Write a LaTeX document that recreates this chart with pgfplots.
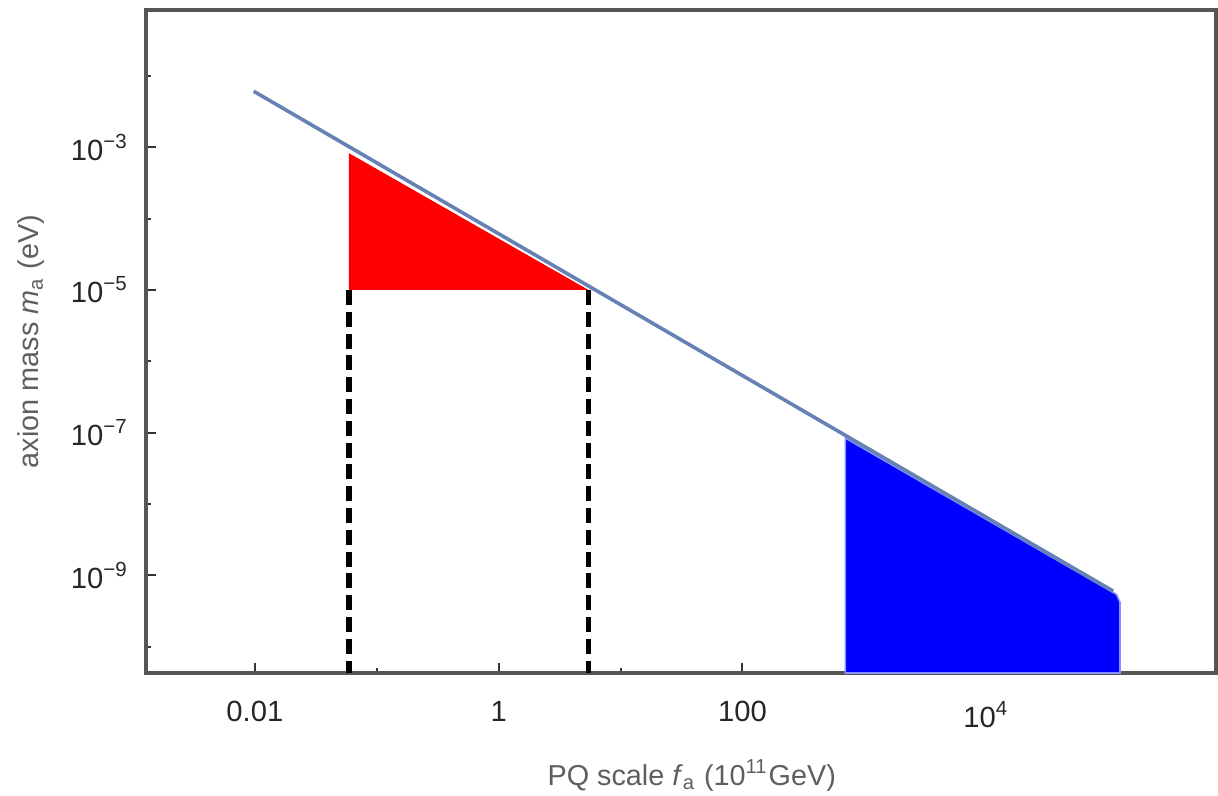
\documentclass[border=0pt]{standalone}
\usepackage{pgfplots}
\pgfplotsset{compat=1.18}
\usepackage{fontspec}
\setmainfont{Liberation Sans}
\definecolor{axgray}{RGB}{85,85,85}
\definecolor{lblgray}{RGB}{95,95,95}
\definecolor{lineblue}{RGB}{102,130,180}
\definecolor{edgeblue}{RGB}{135,145,255}
\begin{document}
\begin{tikzpicture}
\begin{axis}[
  scale only axis,
  width=267.5pt, height=165.75pt,
  xmode=log, ymode=log,
  xmin=1.28e-3, xmax=7.67e5,
  ymin=4.27e-11, ymax=0.0841,
  axis line style={draw=axgray, line width=0.9pt},
  tick align=inside,
  xtick pos=bottom, ytick pos=left,
  major tick length=2.5pt, minor tick length=1.3pt,
  tick style={draw=black!80, line width=0.5pt},
  xtick={0.01,1,100,10000},
  xticklabels={0.01,1,100,10\textsuperscript{4}},
  minor xtick={0.1,10,1000,100000},
  ytick={1e-3,1e-5,1e-7,1e-9},
  yticklabels={10\textsuperscript{−3},10\textsuperscript{−5},10\textsuperscript{−7},10\textsuperscript{−9}},
  minor ytick={1e-2,1e-4,1e-6,1e-8,1e-10},
  ticklabel style={font=\fontsize{7.3}{8.7}\selectfont, text=black!85},
  xticklabel style={yshift=-3.5pt},
  yticklabel style={xshift=-0.8pt},
  xlabel={PQ scale \textit{f}\textsubscript{a} (10\textsuperscript{11}GeV)},
  ylabel={axion mass \textit{m}\textsubscript{a} (eV)},
  every axis x label/.style={at={(axis description cs:0.51,-0.154)}, anchor=center, font=\fontsize{7.2}{8.6}\selectfont, text=lblgray},
  every axis y label/.style={at={(axis description cs:-0.107,0.5)}, rotate=90, anchor=center, font=\fontsize{7.2}{8.6}\selectfont, text=lblgray},
  clip=true,
]
% red region
\addplot[fill=red, draw=none] coordinates {(0.059,1e-5) (0.059,8.3e-4) (5.47,1e-5)} -- cycle;
% blue region
\addplot[fill=blue, draw=edgeblue, line width=0.4pt] coordinates {(698,4.27e-11) (698,8.4e-8) (1.17e5,5.4e-10) (1.25e5,4.2e-10) (1.25e5,4.27e-11)} -- cycle;
% dashed lines
\addplot[black, line width=1.4pt, dash pattern=on 3.75pt off 1.7pt] coordinates {(0.059,1e-5) (0.059,4.27e-11)};
\addplot[black, line width=1.4pt, dash pattern=on 3.75pt off 1.7pt] coordinates {(5.47,1e-5) (5.47,4.27e-11)};
% axion mass line
\addplot[lineblue, line width=0.9pt] coordinates {(0.0098,6.1e-3) (1.1e5,6.0e-10)};
\end{axis}
\pgfresetboundingbox
\path ([shift={(-36.5pt,-30.5pt)}]current axis.south west) rectangle ([shift={(0.5pt,2.5pt)}]current axis.north east);
\end{tikzpicture}
\end{document}
